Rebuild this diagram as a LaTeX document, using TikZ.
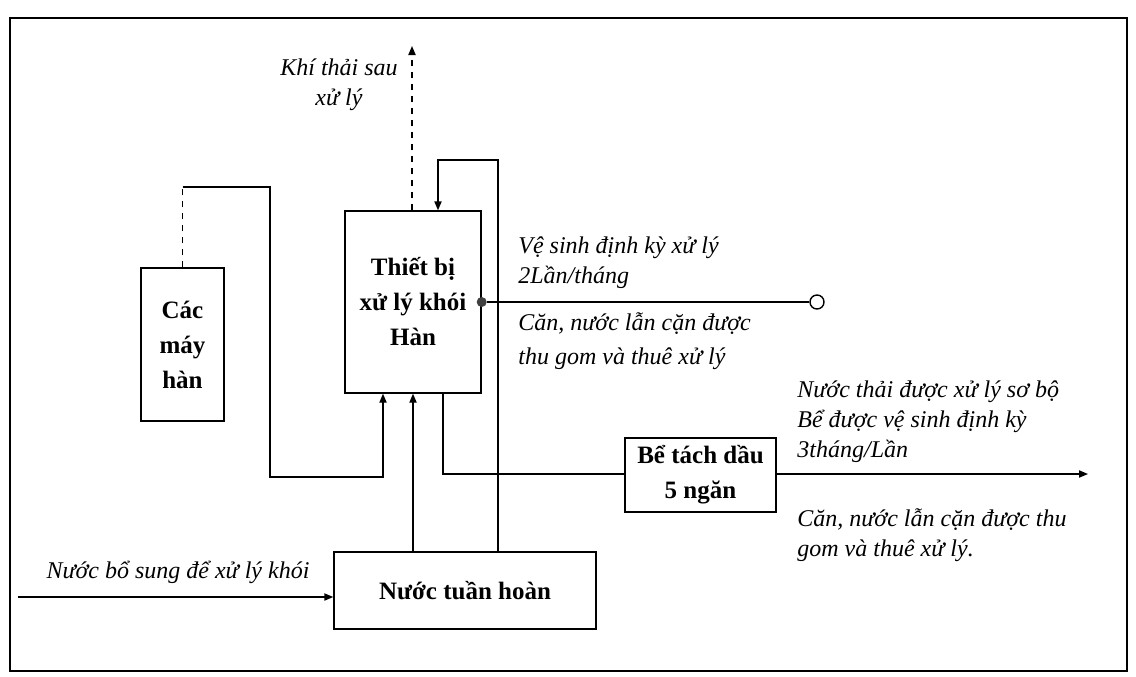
\documentclass[tikz,border=0pt]{standalone}
\usepackage{fontspec}
\setmainfont{Liberation Serif}
\usetikzlibrary{arrows.meta}

\begin{document}
\begin{tikzpicture}[
  x=0.5pt, y=-0.5pt,
  >={Triangle[length=4.5pt,width=3.6pt]},
  line join=miter,
  flow/.style={line width=0.7pt},
  box/.style={draw, line width=0.7pt, inner sep=0pt, align=center,
    font=\bfseries\fontsize{12.5}{17.5}\selectfont},
  lab/.style={inner sep=0pt, align=left,
    font=\itshape\fontsize{12}{15}\selectfont}
]
  \useasboundingbox (0,0) rectangle (1136,676);
  \draw[line width=0.7pt] (10,18) rectangle (1127,671);

  % Process units
  \node[box, minimum width=41.5pt, minimum height=76.5pt] (may) at (182.5,344.5) {Các\\máy\\hàn};
  \node[box, minimum width=68pt, minimum height=91pt] (thietbi) at (413,302) {Thiết bị\\xử lý khói\\Hàn};
  \node[box, minimum width=75.5pt, minimum height=37pt] (betach) at (700.5,475) {Bể tách dầu\\5 ngăn};
  \node[box, minimum width=131pt, minimum height=38.5pt] (tuanhoan) at (465,590.5) {Nước tuần hoàn};

  % Bend points and free ends
  \coordinate (c1) at (182.5,187);
  \coordinate (c2) at (270,187);
  \coordinate (c3) at (270,477);
  \coordinate (c4) at (383,477);
  \coordinate (khi) at (412,46);
  \coordinate (l1) at (498,160);
  \coordinate (l2) at (438,160);
  \coordinate (m1) at (413,480);
  \coordinate (b1) at (443,474);
  \coordinate (out) at (1088,474);
  \coordinate (in) at (18,597);

  % Smoke from the welders
  \draw[flow, dashed] (may.north) -- (c1);
  \draw[flow, ->] (c1) -- (c2) -- (c3) -- (c4) -- (c4 |- thietbi.south);
  \draw[flow, dashed, ->] (thietbi.north -| khi) -- (khi);

  % Circulating water
  \draw[flow, ->] (tuanhoan.north -| l1) -- (l1) -- (l2) -- (l2 |- thietbi.north);
  \draw[flow, ->] (tuanhoan.north -| m1) -- (m1 |- thietbi.south);
  \draw[flow] (thietbi.south -| b1) -- (b1) -- (betach.west |- b1);
  \draw[flow, ->] (betach.east |- out) -- (out);
  \draw[flow, ->] (in) -- (in -| tuanhoan.west);

  % Sludge outlet
  \node[circle, fill=black!75, inner sep=0pt, minimum size=5pt] (dot) at (thietbi.east) {};
  \node[circle, draw, line width=0.7pt, fill=white, inner sep=0pt, minimum size=7pt] (ve) at (817,302) {};
  \draw[flow] (dot) -- (ve);

  % Labels
  \node[lab, align=center] (khilab) at (339,85) {Khí thải sau\\xử lý};
  \node[lab, anchor=west] (velab) at (518,263) {Vệ sinh định kỳ xử lý\\2Lần/tháng};
  \node[lab, anchor=west, font=\itshape\fontsize{12}{17}\selectfont] (canlab) at (518,341) {Căn, nước lẫn cặn được\\thu gom và thuê xử lý};
  \node[lab, anchor=west] (ralab) at (797,422) {Nước thải được xử lý sơ bộ\\Bể được vệ sinh định kỳ\\3tháng/Lần};
  \node[lab, anchor=west] (canlab2) at (797,535) {Căn, nước lẫn cặn được thu\\gom và thuê xử lý.};
  \node[lab] (inlab) at (178,572) {Nước bổ sung để xử lý khói};
\end{tikzpicture}
\end{document}
